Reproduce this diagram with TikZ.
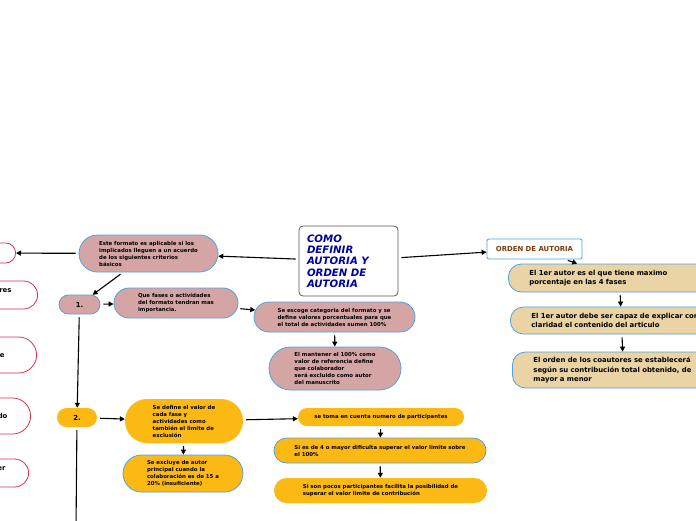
\documentclass[tikz,border=0pt]{standalone}
\usepackage{fontspec}
\setmainfont{DejaVu Sans}
\usepackage{tikz}
\usetikzlibrary{arrows.meta,shapes.misc}
\definecolor{pinkfill}{HTML}{D5A5A5}
\definecolor{orangefill}{HTML}{FDB913}
\definecolor{tanfill}{HTML}{EAD3A5}
\definecolor{blueline}{HTML}{4DA3E0}
\definecolor{redline}{HTML}{CF3553}
\definecolor{titleblue}{HTML}{00009E}
\definecolor{brownish}{HTML}{7A3D0A}
\newcommand{\tinyfont}{\fontsize{5.4}{7}\selectfont\bfseries}
\newcommand{\midfont}{\fontsize{6.9}{9.6}\selectfont\bfseries}
\newcommand{\titlefont}{\fontsize{10.2}{11.3}\selectfont\bfseries\itshape}
\tikzstyle{pinkbox}=[rounded rectangle,draw=blueline,fill=pinkfill,
                     line width=0.8pt,inner sep=0pt,align=left,font=\tinyfont]
\tikzstyle{orangebox}=[rounded rectangle,fill=orangefill,
                       inner sep=0pt,align=left,font=\tinyfont]
\tikzstyle{orangeblue}=[orangebox,draw=blueline,line width=0.8pt]
\tikzstyle{tanbox}=[rectangle,rounded corners=13pt,draw=blueline,fill=tanfill,
                    line width=0.8pt,anchor=west,text width=180pt,inner xsep=21pt,
                    align=left,font=\midfont]
\tikzstyle{leftbox}=[rounded rectangle,draw=redline,fill=white,line width=0.8pt,
                     anchor=east,minimum width=90pt,font=\midfont]
\tikzstyle{link}=[draw,line width=1.1pt,shorten <=3pt,
                  -{Triangle[length=5pt,width=5pt]}]

\begin{document}
\begin{tikzpicture}[x=1pt,y=-1pt]
    \useasboundingbox (0,0) rectangle (696,520);
    \clip (0,0) rectangle (696,520);
    % centre
    \node (title) at (348.5,261) [rectangle,rounded corners=4pt,draw=gray!70!black,
        fill=white,line width=0.8pt,text width=83pt,inner xsep=8pt,minimum height=70pt,
        align=left,font=\titlefont,text=titleblue]
        {COMO\\DEFINIR\\AUTORIA Y\\ORDEN DE\\AUTORIA};
    % left branch
    \node (este) at (148.5,253.5) [pinkbox,minimum width=139pt,minimum height=37pt]
        {Este formato es aplicable si los\\implicados lleguen a un acuerdo\\de los siguientes criterios\\básicos};
    \node (l1) at (16,253) [leftbox,minimum height=20pt] {};
    \node (l2) at (38,295) [leftbox,minimum height=28pt,
        label={[anchor=east,xshift=-23pt,yshift=4pt,font=\midfont]east:ores}] {};
    \node (l3) at (37,355) [leftbox,minimum height=36pt,
        label={[anchor=east,xshift=-29pt,font=\midfont]east:de}] {};
    \node (l4) at (31,416) [leftbox,minimum height=36pt,
        label={[anchor=east,xshift=-20pt,font=\midfont]east:ido}] {};
    \node (l5) at (29,473) [leftbox,minimum height=28pt,
        label={[anchor=east,xshift=-20pt,yshift=4pt,font=\midfont]east:ser}] {};
    \node (n1) at (79.5,304.5) [pinkbox,minimum width=41pt,minimum height=19pt,
        align=center,font=\midfont] {1.};
    \node (fases) at (176,303) [pinkbox,minimum width=124pt,minimum height=30pt]
        {Que fases o actividades\\del formato tendran mas\\importancia.};
    \node (escoge) at (334.5,317) [pinkbox,minimum width=161pt,minimum height=30pt]
        {Se escoge categoria del formato y se\\define valores porcentuales para que\\el total de actividades sumen 100\%};
    \node (mantener) at (335,368.5) [pinkbox,minimum width=132pt,minimum height=43pt]
        {El mantener el 100\% como\\valor de referencia define\\que colaborador\\será excluido como autor\\del manuscrito};
    \node (n2) at (77,417.5) [orangebox,minimum width=40pt,minimum height=19pt,
        align=center,font=\midfont] {2.};
    \coordinate (c2) at (76,530);
    \node (define) at (184,421) [orangebox,minimum width=118pt,minimum height=44pt]
        {Se define el valor de\\cada fase y\\actividades como\\también el limite de\\exclusión};
    \node (excluye) at (183,473.5) [orangeblue,minimum width=120pt,minimum height=37pt]
        {Se excluye de autor\\principal cuando la\\colaboración es de 15 a\\20\% (insuficiente)};
    \node (toma) at (381,417) [orangebox,minimum width=166pt,minimum height=18pt]
        {se toma en cuenta numero de participantes};
    \node (cuatro) at (380,450.5) [orangeblue,minimum width=212pt,minimum height=25pt]
        {Si es de 4 o mayor dificulta superar el valor limite sobre\\el 100\%};
    \node (pocos) at (380.5,490.5) [orangebox,minimum width=213pt,minimum height=25pt]
        {Si son pocos participantes facilita la posibilidad de\\superar el valor limite de contribución};
    % right branch
    \node (orden) at (534.5,249) [rectangle,rounded corners=2pt,draw=blueline,fill=white,
        line width=0.8pt,minimum width=95pt,minimum height=20pt,font=\midfont,
        text=brownish] {ORDEN DE AUTORIA};
    \node (ta) at (508,278) [tanbox,minimum height=28pt]
        {El 1er autor es el que tiene maximo\\porcentaje en las 4 fases};
    \node (tb) at (510,320.5) [tanbox,minimum height=27pt]
        {El 1er autor debe ser capaz de explicar con\\claridad el contenido del articulo};
    \node (tc) at (512,370) [tanbox,minimum height=36pt]
        {El orden de los coautores se establecerá\\según su contribución total obtenido, de\\mayor a menor};

    \draw [link] (title) -- (este);
    \draw [link] (este) -- (l1);
    \draw [link] (este) -- (n1);
    \draw [link] (n1) -- (fases);
    \draw [link] (fases) -- (escoge);
    \draw [link] (escoge) -- (mantener);
    \draw [link] (n1) -- (n2);
    \draw [line width=1.1pt,shorten <=3pt] (n2) -- (c2);
    \draw [link] (n2) -- (define);
    \draw [link] (define) -- (excluye);
    \draw [link] (define) -- (toma);
    \draw [link] (toma) -- (cuatro);
    \draw [link] (cuatro) -- (pocos);
    \draw [link] (title) -- (orden);
    \draw [link] (orden) -- (ta);
    \draw [link] (ta) -- (tb);
    \draw [link] (tb) -- (tc);
\end{tikzpicture}
\end{document}
